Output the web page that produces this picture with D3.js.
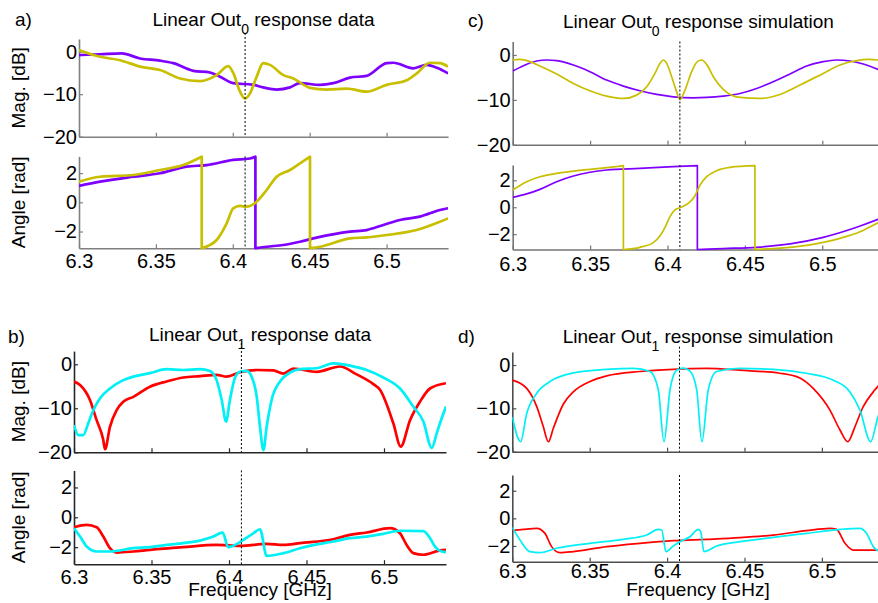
<!DOCTYPE html>
<html>
<head>
<meta charset="utf-8">
<script src="https://cdn.jsdelivr.net/npm/d3@7"></script>
<style>
  html, body { margin: 0; padding: 0; background: #fff; }
  svg { display: block; font-family: "Liberation Sans", Arial, Helvetica, sans-serif; }
</style>
</head>
<body>
<div id="chart"></div>
<script>
// ---- values: [frequency GHz, value] ----
// a) Out0 measured
const out0DataMagViolet = [[6.3,-0.8],[6.3137,-0.6],[6.3278,-0.4],[6.3397,-1.6],[6.3527,-2.1],[6.3613,-2.7],[6.3743,-4.5],[6.3852,-4.9],[6.3917,-5.9],[6.4003,-7.4],[6.4133,-7.8],[6.4198,-8.4],[6.4285,-8.9],[6.4372,-8.4],[6.4437,-7.4],[6.4567,-7.8],[6.4654,-7.4],[6.4762,-6.1],[6.487,-5.7],[6.5001,-2.7],[6.5044,-2.6],[6.5174,-3.9],[6.526,-3.1],[6.5335,-3.9],[6.54,-5.1]];
const out0DataMagOlive = [[6.3,0.4],[6.3137,-1.2],[6.3267,-2.0],[6.3397,-3.5],[6.3527,-4.3],[6.3657,-6.3],[6.3787,-6.9],[6.3895,-5.5],[6.3971,-3.4],[6.4003,-5.0],[6.4047,-9.4],[6.4079,-11],[6.4112,-9.8],[6.4155,-5.9],[6.4198,-2.7],[6.4242,-3.1],[6.4329,-5.5],[6.4394,-6.3],[6.4502,-8.5],[6.461,-8.9],[6.474,-8.7],[6.487,-9.4],[6.5,-7.8],[6.5131,-6.7],[6.5196,-5.1],[6.5282,-2.6],[6.5347,-2.7],[6.54,-3.5]];
const out0DataAngViolet = [[6.3,1.12],[6.3137,1.41],[6.3354,1.75],[6.3527,1.99],[6.3699,2.44],[6.383,2.55],[6.4003,2.9],[6.4112,3.0],[6.4147,3.12],[6.4147,-3.14],[6.422,-3.04],[6.4329,-2.92],[6.4437,-2.7],[6.4545,-2.42],[6.4762,-2.01],[6.487,-1.9],[6.4979,-1.55],[6.5087,-1.21],[6.5217,-0.98],[6.5347,-0.53],[6.54,-0.41]];
const out0DataAngOlive = [[6.3,1.41],[6.3137,1.75],[6.3354,1.87],[6.3527,2.21],[6.3678,2.55],[6.3798,3.12],[6.3798,-3.14],[6.3895,-2.58],[6.396,-1.44],[6.4003,-0.41],[6.4047,-0.25],[6.409,-0.3],[6.4155,0.04],[6.422,0.84],[6.4285,1.75],[6.4372,2.21],[6.4437,2.67],[6.4502,3.12],[6.4502,-3.14],[6.4567,-3.04],[6.4762,-2.47],[6.487,-2.4],[6.5,-2.24],[6.5195,-1.9],[6.5347,-1.33],[6.54,-1.1]];

// b) Out1 measured
const out1DataMagRed = [[6.3,-3.9],[6.3039,-4.7],[6.3103,-8.1],[6.3146,-12.7],[6.3189,-17.2],[6.32,-19.3],[6.3232,-14.2],[6.3275,-10.4],[6.3318,-8.5],[6.3383,-7.4],[6.349,-5.1],[6.3598,-3.9],[6.3705,-3.0],[6.3813,-2.7],[6.392,-2.4],[6.3985,-2.8],[6.4071,-1.8],[6.4179,-1.3],[6.4286,-1.4],[6.4351,-2.1],[6.4415,-1.0],[6.4566,-1.7],[6.4716,-0.5],[6.4824,-2.3],[6.4931,-4.5],[6.4974,-5.8],[6.506,-13.4],[6.5108,-18.7],[6.5168,-12.7],[6.5232,-8.5],[6.5297,-5.5],[6.54,-4.3]];
const out1DataMagCyan = [[6.3,-13.8],[6.3028,-16.1],[6.306,-16.1],[6.3092,-13.4],[6.3125,-10.4],[6.3168,-7.7],[6.3232,-5.5],[6.3318,-3.6],[6.3383,-2.8],[6.349,-2.0],[6.3598,-1.1],[6.3705,-1.3],[6.3813,-1.1],[6.3877,-1.5],[6.392,-3.6],[6.3953,-8.1],[6.3981,-13.0],[6.4006,-8.1],[6.4039,-3.0],[6.4071,-1.7],[6.4114,-1.5],[6.4146,-2.8],[6.4179,-7.4],[6.42,-14.2],[6.4222,-19.5],[6.4243,-14.2],[6.4275,-8.1],[6.4329,-3.9],[6.4394,-1.9],[6.4458,-1.1],[6.4566,-0.9],[6.4673,0.2],[6.4737,0.0],[6.4781,-0.3],[6.4888,-1.3],[6.4995,-3.0],[6.5103,-5.5],[6.5189,-9.6],[6.5254,-13.0],[6.5308,-19.0],[6.534,-15.7],[6.5361,-13.4],[6.54,-9.6]];
const out1DataAngRed = [[6.3,-0.67],[6.3082,-0.51],[6.3146,-0.67],[6.3189,-1.29],[6.3232,-2.07],[6.3275,-2.36],[6.3383,-2.29],[6.349,-2.18],[6.3705,-2.0],[6.392,-1.85],[6.4071,-1.91],[6.4243,-1.78],[6.4351,-1.85],[6.4458,-1.73],[6.4673,-1.47],[6.4781,-1.18],[6.4888,-1.02],[6.5039,-0.73],[6.5103,-1.07],[6.5146,-1.85],[6.5189,-2.4],[6.5254,-2.51],[6.5361,-2.22],[6.54,-2.18]];
const out1DataAngCyan = [[6.3,-0.73],[6.3039,-1.29],[6.3082,-1.96],[6.3146,-2.29],[6.3232,-2.29],[6.3383,-2.07],[6.349,-2.0],[6.3598,-1.85],[6.3705,-1.73],[6.3813,-1.56],[6.3899,-1.29],[6.3959,-1.02],[6.3995,-2.0],[6.4028,-1.91],[6.4092,-1.51],[6.4157,-1.07],[6.42,-0.8],[6.4243,-2.58],[6.4351,-2.4],[6.4458,-2.07],[6.4673,-1.62],[6.4781,-1.4],[6.4888,-1.29],[6.4995,-1.11],[6.5103,-0.9],[6.5254,-0.92],[6.5297,-1.4],[6.5329,-1.96],[6.5372,-2.29],[6.54,-2.33]];

// c) Out0 simulated
const out0SimMagViolet = [[6.3,-3.58],[6.3069,-2.38],[6.3155,-1.34],[6.322,-1.12],[6.3284,-1.27],[6.3392,-2.23],[6.3499,-3.72],[6.3607,-5.59],[6.3715,-6.93],[6.3822,-7.97],[6.393,-8.79],[6.4037,-9.31],[6.4167,-9.53],[6.4253,-9.46],[6.436,-9.16],[6.4468,-8.57],[6.4576,-7.45],[6.4683,-5.96],[6.4791,-4.25],[6.4899,-2.46],[6.5006,-1.49],[6.5093,-1.12],[6.5179,-1.34],[6.5265,-2.01],[6.536,-3.2],[6.54,-3.8]];
const out0SimMagOlive = [[6.3,-1.1],[6.3047,-1.0],[6.3112,-1.49],[6.3176,-2.46],[6.3284,-4.25],[6.3392,-6.33],[6.3499,-7.97],[6.3607,-9.16],[6.3715,-9.68],[6.3801,-8.94],[6.3866,-7.08],[6.3919,-4.1],[6.3952,-1.86],[6.3973,-1.12],[6.3995,-1.86],[6.4027,-4.84],[6.4059,-8.19],[6.4081,-9.9],[6.4113,-7.82],[6.4156,-3.72],[6.4193,-1.49],[6.4221,-1.12],[6.4253,-2.09],[6.4296,-4.84],[6.436,-7.67],[6.4468,-9.46],[6.4597,-9.68],[6.4727,-8.79],[6.4856,-6.7],[6.5006,-4.1],[6.5114,-2.23],[6.5222,-1.27],[6.5297,-1.0],[6.536,-1.12],[6.54,-1.4]];
const out0SimAngViolet = [[6.3,0.74],[6.309,0.99],[6.3176,1.33],[6.3284,1.9],[6.3392,2.32],[6.3499,2.6],[6.3607,2.77],[6.3822,2.89],[6.4037,3.02],[6.4193,3.09],[6.4193,-3.14],[6.436,-3.07],[6.4576,-2.98],[6.4791,-2.73],[6.5006,-2.24],[6.5222,-1.49],[6.536,-0.9],[6.54,-0.72]];
const out0SimAngOlive = [[6.3,1.28],[6.309,1.9],[6.3176,2.27],[6.3284,2.52],[6.3392,2.69],[6.3499,2.82],[6.3607,2.94],[6.3715,3.09],[6.3715,-3.14],[6.3822,-2.98],[6.3908,-2.63],[6.3951,-2.14],[6.3984,-1.49],[6.4016,-0.7],[6.4048,-0.2],[6.4081,-0.03],[6.4134,0.29],[6.4177,0.84],[6.421,1.65],[6.4253,2.27],[6.4317,2.72],[6.4404,2.97],[6.4565,3.09],[6.4565,-3.14],[6.4683,-3.07],[6.4899,-2.83],[6.5114,-2.31],[6.5244,-1.82],[6.536,-1.15],[6.54,-0.95]];

// d) Out1 simulated
const out1SimMagRed = [[6.3,-3.5],[6.3093,-5.4],[6.3158,-9.6],[6.32,-14.2],[6.3233,-17.7],[6.3265,-14.6],[6.333,-9.0],[6.3394,-6.2],[6.3502,-3.8],[6.361,-2.5],[6.3825,-1.5],[6.404,-1.0],[6.4256,-0.8],[6.4471,-1.2],[6.4729,-1.9],[6.4858,-3.0],[6.4944,-5.4],[6.5052,-10.4],[6.5117,-15],[6.5167,-17.7],[6.5214,-14.2],[6.5267,-9.6],[6.5332,-6.2],[6.5362,-4.9],[6.54,-4.0]];
const out1SimMagCyan = [[6.3,-12.0],[6.3054,-17.7],[6.3093,-11.2],[6.3158,-6.5],[6.3244,-3.8],[6.3396,-1.8],[6.361,-1.0],[6.3782,-0.8],[6.389,-1.5],[6.3943,-5.7],[6.398,-17.7],[6.4019,-5.7],[6.4062,-1.2],[6.4104,-0.7],[6.4148,-1.4],[6.4191,-5.7],[6.4225,-17.7],[6.4266,-5.7],[6.432,-1.5],[6.447,-0.8],[6.4686,-1.0],[6.49,-1.9],[6.5074,-3.5],[6.5181,-6.2],[6.5246,-10.4],[6.5315,-17.7],[6.5362,-12.0],[6.54,-8.5]];
const out1SimAngRed = [[6.3,-0.89],[6.3071,-0.8],[6.3158,-0.72],[6.3211,-1.09],[6.3254,-2.05],[6.3308,-2.49],[6.3394,-2.41],[6.361,-2.05],[6.3825,-1.81],[6.404,-1.62],[6.4256,-1.52],[6.4471,-1.4],[6.4686,-1.21],[6.49,-0.89],[6.5052,-0.72],[6.5095,-0.8],[6.5149,-1.81],[6.5203,-2.3],[6.5362,-2.3],[6.54,-2.27]];
const out1SimAngCyan = [[6.3,-0.65],[6.305,-1.57],[6.3113,-2.41],[6.3178,-2.49],[6.3286,-2.17],[6.3502,-1.81],[6.3717,-1.52],[6.3868,-1.21],[6.3943,-0.8],[6.3965,-0.84],[6.3993,-2.41],[6.404,-2.0],[6.4083,-1.69],[6.4148,-1.33],[6.4202,-0.8],[6.4217,-0.97],[6.4238,-2.41],[6.432,-2.0],[6.447,-1.69],[6.4686,-1.38],[6.49,-1.09],[6.5117,-0.8],[6.5246,-0.72],[6.5289,-1.09],[6.5332,-2.05],[6.5362,-2.34],[6.54,-2.4]];

// ---- axes / ticks ----
const xDomain = [6.3, 6.54];
const magDomain = [-20, 3];
const angleDomain = [-Math.PI, Math.PI];
const xTicks = [6.3, 6.35, 6.4, 6.45, 6.5];
const xTickLabels = ['6.3', '6.35', '6.4', '6.45', '6.5'];
const magTicks = [-20, -10, 0];
const angleTicks = [-2, 0, 2];
const markerFreq = 6.408;

const VIOLET = '#7f00ff';
const OLIVE = '#c8bf00';
const RED = '#ff0000';
const CYAN = '#00f0f6';

const width = 878;
const height = 603;

const panels = [
  { tag: 'a)', tagX: 15, tagY: 25.5, name: 'response data', sub: '0', titleY: 26,
    xr: [79, 448.1], magR: [136.7, 38.95], angR: [248.2, 156.4], markTop: 33,
    axisColor: '#808080', lw: 2.7, tickY: 20, yLabels: true, freqLabel: false,
    mag: [[out0DataMagViolet, VIOLET], [out0DataMagOlive, OLIVE]],
    ang: [[out0DataAngViolet, VIOLET], [out0DataAngOlive, OLIVE]] },
  { tag: 'c)', tagX: 468, tagY: 26.7, name: 'response simulation', sub: '0', titleY: 28.3,
    xr: [512.7, 884.2], magR: [144.8, 41.5], angR: [249.5, 165], markTop: 41.5,
    axisColor: '#737373', lw: 1.7, tickY: 21, yLabels: false, freqLabel: false,
    mag: [[out0SimMagViolet, VIOLET], [out0SimMagOlive, OLIVE]],
    ang: [[out0SimAngViolet, VIOLET], [out0SimAngOlive, OLIVE]] },
  { tag: 'b)', tagX: 8, tagY: 343, name: 'response data', sub: '1', titleY: 341,
    xr: [74, 446], magR: [452.3, 351.1], angR: [564.2, 470.4], markTop: 343,
    axisColor: '#262626', lw: 2.7, tickY: 19.5, yLabels: true, freqLabel: true,
    mag: [[out1DataMagRed, RED], [out1DataMagCyan, CYAN]],
    ang: [[out1DataAngRed, RED], [out1DataAngCyan, CYAN]] },
  { tag: 'd)', tagX: 458, tagY: 343, name: 'response simulation', sub: '1', titleY: 342.7,
    xr: [512.3, 883.8], magR: [451.7, 352], angR: [561.7, 475], markTop: 346.7,
    axisColor: '#4d4d4d', lw: 1.7, tickY: 16.5, yLabels: false, freqLabel: true,
    mag: [[out1SimMagRed, RED], [out1SimMagCyan, CYAN]],
    ang: [[out1SimAngRed, RED], [out1SimAngCyan, CYAN]] }
];

const svg = d3.select('#chart').append('svg')
  .attr('width', width)
  .attr('height', height);

const defs = svg.append('defs');
let clipId = 0;

const minusFmt = d => (d < 0 ? '\u2212' + Math.abs(d) : String(d));

// builds a path; equal consecutive frequencies mark a phase wrap drawn as a straight jump
function tracePath(points, x, y) {
  const segs = [];
  let cur = [points[0]];
  for (let i = 1; i < points.length; i++) {
    if (points[i][0] === points[i - 1][0]) {
      segs.push(cur);
      cur = [points[i]];
    } else {
      cur.push(points[i]);
    }
  }
  segs.push(cur);
  const line = d3.line().x(d => x(d[0])).y(d => y(d[1])).curve(d3.curveMonotoneX);
  return segs.map((s, i) => {
    const p = line(s);
    return i ? 'L' + p.slice(1) : p;
  }).join('');
}

function styleAxis(g, color) {
  g.attr('font-size', null).attr('font-family', null);
  g.select('.domain').attr('stroke', color).attr('stroke-width', 1.6);
  g.selectAll('.tick line').attr('stroke', color).attr('stroke-width', 1.2);
  g.selectAll('.tick text').attr('fill', '#000').style('font-size', '20px');
}

function drawSub(p, yRange, yDomain, yTicks, series, isAngle) {
  const x = d3.scaleLinear().domain(xDomain).range(p.xr);
  const y = d3.scaleLinear().domain(yDomain).range(yRange);
  const top = yRange[1];
  const bottom = yRange[0];

  const g = svg.append('g');

  const yAxis = g.append('g')
    .attr('transform', `translate(${p.xr[0]},0)`)
    .call(d3.axisLeft(y).tickValues(yTicks).tickSize(-4).tickSizeOuter(0).tickPadding(2).tickFormat(minusFmt));
  styleAxis(yAxis, p.axisColor);

  const xAxis = g.append('g')
    .attr('transform', `translate(0,${bottom})`)
    .call(d3.axisBottom(x).tickValues(xTicks).tickSize(-4).tickSizeOuter(0)
      .tickFormat((d, i) => (isAngle ? xTickLabels[i] : '')));
  styleAxis(xAxis, p.axisColor);
  xAxis.selectAll('.tick text').attr('y', p.tickY).attr('dy', null);

  const id = 'clip' + (clipId++);
  defs.append('clipPath').attr('id', id)
    .append('rect')
    .attr('x', p.xr[0])
    .attr('y', top - 2)
    .attr('width', p.xr[1] - p.xr[0])
    .attr('height', bottom - top + 4);

  const lines = g.append('g').attr('clip-path', `url(#${id})`);
  series.forEach(([pts, color]) => {
    lines.append('path')
      .attr('d', tracePath(pts, x, y))
      .attr('fill', 'none')
      .attr('stroke', color)
      .attr('stroke-width', p.lw)
      .attr('stroke-linejoin', 'round');
  });

  g.append('line')
    .attr('x1', x(markerFreq)).attr('x2', x(markerFreq))
    .attr('y1', isAngle ? top : p.markTop)
    .attr('y2', bottom)
    .attr('stroke', '#000')
    .attr('stroke-width', 1)
    .attr('stroke-dasharray', '2,2');

  if (p.yLabels) {
    g.append('text')
      .attr('transform', `translate(25,${(top + bottom) / 2}) rotate(-90)`)
      .attr('text-anchor', 'middle')
      .style('font-size', '19px')
      .text(isAngle ? 'Angle [rad]' : 'Mag. [dB]');
  }

  if (isAngle && p.freqLabel) {
    g.append('text')
      .attr('x', (p.xr[0] + p.xr[1]) / 2)
      .attr('y', 596)
      .attr('text-anchor', 'middle')
      .style('font-size', '19px')
      .text('Frequency [GHz]');
  }
}

panels.forEach(p => {
  drawSub(p, p.magR, magDomain, magTicks, p.mag, false);
  drawSub(p, p.angR, angleDomain, angleTicks, p.ang, true);

  const title = svg.append('text')
    .attr('x', (p.xr[0] + p.xr[1]) / 2)
    .attr('y', p.titleY)
    .attr('text-anchor', 'middle')
    .style('font-size', '19px');
  title.append('tspan').text('Linear Out');
  title.append('tspan').attr('dy', 8).style('font-size', '14px').text(p.sub);
  title.append('tspan').attr('dy', -8).text(' ' + p.name);

  svg.append('text')
    .attr('x', p.tagX)
    .attr('y', p.tagY)
    .style('font-size', '19px')
    .text(p.tag);
});
</script>
</body>
</html>
